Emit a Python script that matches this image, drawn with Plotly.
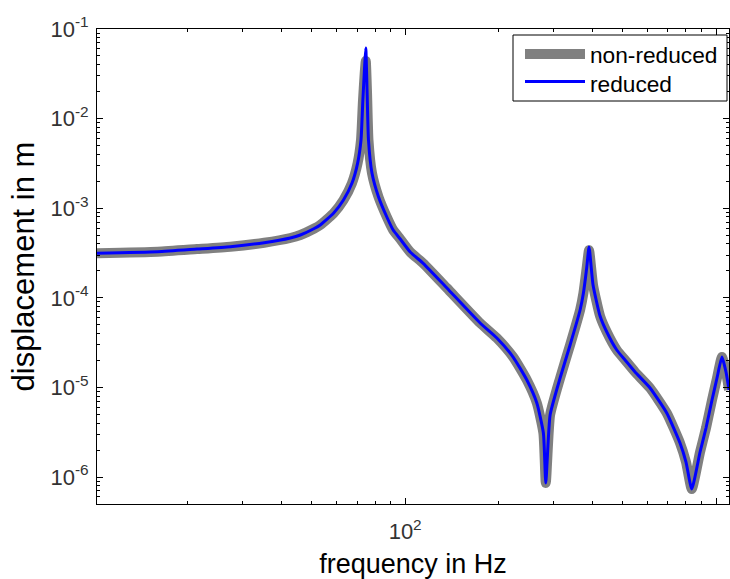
import plotly.graph_objects as go

# ---- data (frequency in Hz, displacement in m) ----
freq_hz = [10.2, 16.0, 21.4, 27.4, 35.2, 42.7, 46.0, 51.0, 53.3, 58.8,
           63.3, 67.4, 70.3, 72.1, 73.1, 74.1, 74.7, 75.4, 76.2, 78.2,
           82.1, 87.3, 91.5, 96.4, 103.8, 114.5, 136.2, 174.2, 197.2, 222.5,
           246.3, 265.2, 278.4, 283.4, 292.6, 315.1, 339.3, 365.4, 374.5, 384.0,
           390.4, 402.2, 423.6, 445.3, 479.4, 509.8, 549.0, 613.5, 694.2, 765.9,
           800.7, 835.6, 888.5, 928.6, 970.8, 1007.4, 1045.0, 1076.9, 1101.2]

disp_reduced = [3.14e-4, 3.27e-4, 3.50e-4, 3.72e-4, 4.12e-4, 4.65e-4, 5.02e-4, 5.93e-4, 6.49e-4, 8.77e-4,
                1.234e-3, 1.896e-3, 3.17e-3, 5.77e-3, 1.613e-2, 3.964e-2, 6.135e-2, 2.085e-2, 5.77e-3, 2.471e-3,
                1.334e-3, 7.975e-4, 5.71e-4, 4.53e-4, 3.245e-4, 2.41e-4, 1.286e-4, 5.232e-5, 3.558e-5, 2.184e-5,
                1.209e-5, 6.697e-6, 3.098e-6, 8.57e-7, 4.92e-6, 1.273e-5, 2.972e-5, 7.31e-5, 1.131e-4, 2.207e-4,
                3.69e-4, 1.39e-4, 6.26e-5, 4.153e-5, 2.615e-5, 2.021e-5, 1.486e-5, 9.85e-6, 5.18e-6, 2.396e-6,
                1.47e-6, 7.35e-7, 1.901e-6, 3.523e-6, 7.23e-6, 1.273e-5, 2.184e-5, 1.486e-5, 9.35e-6]

disp_nonreduced = [3.14e-4, 3.27e-4, 3.50e-4, 3.72e-4, 4.12e-4, 4.65e-4, 5.02e-4, 5.93e-4, 6.49e-4, 8.77e-4,
                   1.234e-3, 1.896e-3, 3.17e-3, 5.77e-3, 1.5e-2, 3.2e-2, 4.4e-2, 1.9e-2, 5.77e-3, 2.471e-3,
                   1.334e-3, 7.975e-4, 5.71e-4, 4.53e-4, 3.245e-4, 2.41e-4, 1.286e-4, 5.232e-5, 3.558e-5, 2.184e-5,
                   1.209e-5, 6.697e-6, 3.098e-6, 8.57e-7, 4.92e-6, 1.273e-5, 2.972e-5, 7.31e-5, 1.131e-4, 2.207e-4,
                   3.4e-4, 1.39e-4, 6.26e-5, 4.153e-5, 2.615e-5, 2.021e-5, 1.486e-5, 9.85e-6, 5.18e-6, 2.396e-6,
                   1.47e-6, 7.35e-7, 1.901e-6, 3.523e-6, 7.23e-6, 1.273e-5, 2.184e-5, 1.486e-5, 9.35e-6]

series_names = ["non-reduced", "reduced"]

x_tick_vals = [100, 1000]
x_tick_text = ["10<sup>2</sup>", "10<sup>3</sup>"]
x_minor_vals = [20, 30, 40, 50, 60, 70, 80, 90, 200, 300, 400, 500, 600, 700, 800, 900]

y_tick_vals = [1e-6, 1e-5, 1e-4, 1e-3, 1e-2, 1e-1]
y_tick_text = ["10<sup>-6</sup>", "10<sup>-5</sup>", "10<sup>-4</sup>",
               "10<sup>-3</sup>", "10<sup>-2</sup>", "10<sup>-1</sup>"]
y_minor_vals = [m * 10.0 ** e for e in range(-7, -1) for m in range(2, 10)]

FONT = "Liberation Sans, Arial, sans-serif"
GRAY = "#808080"
BLUE = "#0000FF"

fig = go.Figure()
fig.add_trace(go.Scatter(x=freq_hz, y=disp_nonreduced, mode="lines", name=series_names[0],
                         line=dict(color=GRAY, width=10, shape="spline", smoothing=0.5),
                         showlegend=False))
fig.add_trace(go.Scatter(x=freq_hz, y=disp_reduced, mode="lines", name=series_names[1],
                         line=dict(color=BLUE, width=3, shape="spline", smoothing=0.5),
                         showlegend=False))

axis_common = dict(
    showline=True, linecolor="black", linewidth=1, mirror="ticks",
    ticks="inside", ticklen=6, tickcolor="black", tickwidth=1,
    showgrid=False, zeroline=False, automargin=False,
    tickfont=dict(family=FONT, size=22, color="#333333"),
)

fig.update_xaxes(type="log", range=[1.0086, 3.0418],
                 tickmode="array", tickvals=x_tick_vals, ticktext=x_tick_text,
                 ticklabelstandoff=8,
                 minor=dict(tickmode="array", tickvals=x_minor_vals, ticks="inside",
                            ticklen=3, tickcolor="black", tickwidth=1, showgrid=False),
                 title=dict(text="frequency in Hz", font=dict(family=FONT, size=27, color="black"),
                            standoff=14),
                 **axis_common)
fig.update_yaxes(type="log", range=[-6.3013, -1.0],
                 tickmode="array", tickvals=y_tick_vals, ticktext=y_tick_text,
                 ticklabelstandoff=3,
                 minor=dict(tickmode="array", tickvals=y_minor_vals, ticks="inside",
                            ticklen=3, tickcolor="black", tickwidth=1, showgrid=False),
                 title=dict(text="displacement in m", font=dict(family=FONT, size=31, color="black"),
                            standoff=6),
                 **axis_common)

# ---- hand-made legend box (MATLAB style) ----
PL, PR, PT, PB = 97, 729, 29, 504
def px(xp):
    return (xp - PL) / (PR - PL)
def py(yp):
    return (PB - yp) / (PB - PT)

shapes = [
    dict(type="rect", xref="paper", yref="paper", x0=px(513), x1=px(727), y0=py(101), y1=py(35),
         line=dict(color="black", width=1), fillcolor="white", layer="above"),
    dict(type="line", xref="paper", yref="paper", x0=px(525), x1=px(585), y0=py(54), y1=py(54),
         line=dict(color=GRAY, width=10), layer="above"),
    dict(type="line", xref="paper", yref="paper", x0=px(525), x1=px(585), y0=py(81.5), y1=py(81.5),
         line=dict(color=BLUE, width=3), layer="above"),
]
annotations = [
    dict(text=series_names[0], xref="paper", yref="paper", x=px(588), y=py(55), xanchor="left",
         yanchor="middle", showarrow=False, font=dict(family=FONT, size=22.7, color="black")),
    dict(text=series_names[1], xref="paper", yref="paper", x=px(588), y=py(84), xanchor="left",
         yanchor="middle", showarrow=False, font=dict(family=FONT, size=22.7, color="black")),
]

fig.update_layout(
    template="none",
    width=730, height=579,
    margin=dict(l=PL, r=730 - PR, t=PT, b=579 - PB, autoexpand=False),
    paper_bgcolor="white", plot_bgcolor="white",
    shapes=shapes, annotations=annotations,
    showlegend=False,
)

fig.write_html("out.html", config={"displayModeBar": False},
               post_script="document.body.style.margin='0px';")
